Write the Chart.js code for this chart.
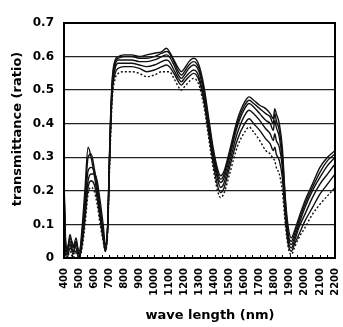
<!DOCTYPE html>
<html>
<head>
<meta charset="utf-8">
<script src="https://cdn.jsdelivr.net/npm/chart.js@4/dist/chart.umd.min.js"></script>
<style>
html,body{margin:0;padding:0;background:#fff;}
#wrap{width:343px;height:327px;position:relative;}
</style>
</head>
<body>
<div id="wrap"><canvas id="c" width="343" height="327"></canvas></div>
<script>
// wavelengths (nm)
const wavelengths = [400,410,420,440,460,480,500,520,540,560,580,600,620,640,660,675,690,705,720,740,760,800,850,900,950,1000,1050,1080,1100,1130,1160,1180,1200,1230,1260,1280,1300,1330,1360,1390,1420,1440,1460,1500,1550,1600,1630,1660,1700,1740,1770,1790,1800,1810,1830,1850,1870,1890,1910,1930,1960,2000,2050,2100,2150,2200];

// transmittance series (ratio), top to bottom
const sample1 = [0.24,0.06,0.02,0.07,0.03,0.06,0.01,0.09,0.21,0.33,0.30,0.25,0.19,0.12,0.06,0.03,0.10,0.36,0.53,0.59,0.60,0.605,0.605,0.60,0.605,0.61,0.615,0.625,0.615,0.59,0.565,0.555,0.565,0.585,0.595,0.59,0.57,0.51,0.42,0.33,0.265,0.245,0.255,0.32,0.41,0.465,0.48,0.47,0.455,0.445,0.43,0.415,0.445,0.43,0.40,0.33,0.18,0.09,0.06,0.08,0.12,0.17,0.22,0.27,0.30,0.32];
const sample2 = [0.22,0.05,0.03,0.05,0.02,0.04,0.02,0.07,0.18,0.30,0.31,0.27,0.21,0.13,0.07,0.02,0.09,0.35,0.52,0.585,0.595,0.60,0.60,0.595,0.595,0.60,0.61,0.615,0.61,0.585,0.555,0.545,0.555,0.575,0.585,0.58,0.56,0.50,0.41,0.32,0.255,0.235,0.245,0.31,0.40,0.455,0.47,0.46,0.445,0.43,0.42,0.40,0.43,0.41,0.38,0.31,0.17,0.07,0.05,0.07,0.11,0.16,0.21,0.255,0.29,0.31];
const sample3 = [0.21,0.04,0.01,0.06,0.04,0.03,0.00,0.06,0.16,0.26,0.27,0.26,0.22,0.15,0.08,0.03,0.10,0.34,0.51,0.575,0.59,0.59,0.59,0.585,0.585,0.59,0.60,0.605,0.60,0.575,0.545,0.535,0.545,0.565,0.575,0.57,0.55,0.49,0.40,0.31,0.245,0.225,0.235,0.30,0.39,0.445,0.46,0.45,0.43,0.41,0.40,0.38,0.41,0.39,0.36,0.29,0.15,0.06,0.04,0.06,0.10,0.15,0.20,0.24,0.275,0.30];
const sample4 = [0.20,0.03,0.02,0.04,0.01,0.05,0.01,0.05,0.14,0.23,0.25,0.25,0.23,0.17,0.10,0.04,0.09,0.33,0.50,0.565,0.58,0.58,0.58,0.575,0.57,0.575,0.585,0.59,0.585,0.56,0.535,0.525,0.535,0.55,0.56,0.555,0.535,0.475,0.39,0.30,0.235,0.21,0.22,0.285,0.37,0.425,0.44,0.43,0.41,0.385,0.37,0.35,0.37,0.35,0.33,0.27,0.14,0.05,0.03,0.05,0.09,0.13,0.18,0.22,0.25,0.28];
const sample5 = [0.19,0.02,0.00,0.03,0.02,0.02,0.00,0.04,0.12,0.21,0.23,0.22,0.18,0.12,0.06,0.02,0.09,0.32,0.49,0.55,0.565,0.57,0.57,0.565,0.555,0.56,0.57,0.575,0.57,0.55,0.525,0.515,0.525,0.54,0.55,0.545,0.525,0.465,0.375,0.285,0.215,0.195,0.205,0.27,0.35,0.40,0.415,0.40,0.38,0.355,0.34,0.32,0.33,0.31,0.29,0.24,0.12,0.04,0.02,0.04,0.07,0.11,0.15,0.19,0.22,0.25];
const sample6 = [0.18,0.02,0.00,0.02,0.00,0.02,0.00,0.03,0.10,0.19,0.21,0.20,0.16,0.10,0.05,0.02,0.08,0.30,0.47,0.535,0.55,0.555,0.555,0.55,0.54,0.545,0.555,0.555,0.555,0.535,0.51,0.50,0.51,0.525,0.535,0.53,0.51,0.45,0.36,0.27,0.20,0.18,0.19,0.25,0.33,0.375,0.39,0.375,0.35,0.32,0.31,0.295,0.29,0.27,0.25,0.20,0.10,0.03,0.01,0.03,0.06,0.09,0.13,0.16,0.185,0.21];

// axis ticks
const yTicks = [0,0.1,0.2,0.3,0.4,0.5,0.6,0.7];
const xMin = 400, xMax = 2200, xMinorStep = 50, xLabelStep = 100;
const xTitle = 'wave length (nm)';
const yTitle = 'transmittance (ratio)';

const series = [sample1, sample2, sample3, sample4, sample5, sample6];
const datasets = series.map((s, k) => ({
  data: wavelengths.map((w, i) => ({x: w, y: s[i]})),
  borderColor: '#111',
  borderWidth: k === 5 ? 1.4 : 1.4,
  borderDash: k === 5 ? [2, 2] : [],
  pointRadius: 0,
  cubicInterpolationMode: 'monotone',
  fill: false
}));

const frame = {
  id: 'frame',
  afterDatasetsDraw(chart) {
    const ctx = chart.ctx, a = chart.chartArea, xs = chart.scales.x;
    ctx.save();
    ctx.strokeStyle = '#000';
    ctx.lineWidth = 1;
    xs.ticks.forEach(t => {
      const px = Math.round(xs.getPixelForValue(t.value)) + 0.5;
      ctx.beginPath();
      ctx.moveTo(px, a.bottom);
      ctx.lineTo(px, a.bottom - 3);
      ctx.stroke();
    });
    ctx.lineWidth = 2;
    ctx.strokeRect(a.left, a.top, a.right - a.left, a.bottom - a.top);
    ctx.restore();
  },
  afterDraw(chart) {
    const ctx = chart.ctx;
    ctx.save();
    ctx.fillStyle = '#000';
    ctx.font = 'bold 13px "DejaVu Sans"';
    ctx.textAlign = 'center';
    ctx.textBaseline = 'middle';
    ctx.fillText(xTitle, 210, 316);
    ctx.translate(17.5, 129);
    ctx.rotate(-Math.PI / 2);
    ctx.fillText(yTitle, 0, 0);
    ctx.restore();
  }
};

new Chart(document.getElementById('c'), {
  type: 'line',
  data: { datasets },
  options: {
    responsive: false,
    animation: false,
    layout: { padding: { top: 23, right: 8, left: 0, bottom: 0 } },
    plugins: { legend: { display: false }, tooltip: { enabled: false } },
    scales: {
      x: {
        type: 'linear',
        min: xMin, max: xMax,
        grid: { display: false, drawTicks: false },
        border: { display: false },
        ticks: {
          stepSize: xMinorStep,
          autoSkip: false,
          maxRotation: 90, minRotation: 90,
          padding: 10,
          color: '#000',
          font: { family: '"DejaVu Sans"', weight: 'bold', size: 10 },
          callback: v => (v % xLabelStep === 0 ? String(v) : '')
        },
        afterFit(s) { s.height = 69; s.paddingLeft = 0; s.paddingRight = 0; }
      },
      y: {
        min: yTicks[0], max: yTicks[yTicks.length - 1],
        grid: { color: '#222', lineWidth: 1.3, drawTicks: false },
        border: { display: false },
        afterBuildTicks(s) { s.ticks = yTicks.map(v => ({value: v})); },
        ticks: {
          padding: 10,
          color: '#000',
          font: { family: '"DejaVu Sans"', weight: 'bold', size: 12 },
          callback: v => (v === 0 ? '0' : v.toFixed(1))
        },
        afterFit(s) { s.width = 64; s.paddingTop = 0; s.paddingBottom = 0; }
      }
    }
  },
  plugins: [frame]
});
</script>
</body>
</html>
